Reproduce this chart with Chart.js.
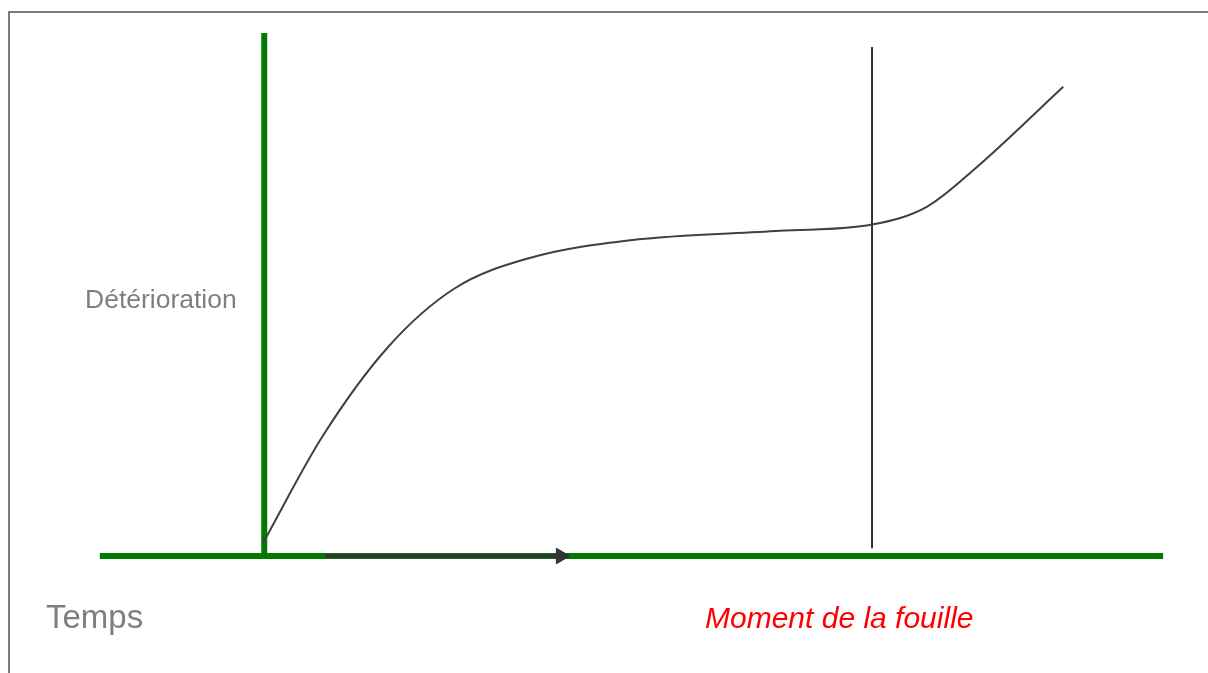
<!DOCTYPE html>
<html>
<head>
<meta charset="utf-8">
<script src="https://cdn.jsdelivr.net/npm/chart.js@4/dist/chart.umd.min.js"></script>
<style>
  body { margin: 0; background: #fff; }
  #wrap { position: relative; width: 1208px; height: 673px; }
  #frame { position: absolute; left: 8px; top: 11px; right: -10px; bottom: -10px;
           border-top: 2px solid #7a7a7a; border-left: 2px solid #7a7a7a; }
  canvas { position: absolute; left: 0; top: 0; }
</style>
</head>
<body>
<div id="wrap">
  <div id="frame"></div>
  <canvas id="myChart" width="1208" height="673"></canvas>
</div>
<script>
// time: 0 = start, 10 = moment of excavation
let curveTime = [0, 0.97, 2.05, 3.15, 4.38, 6.03, 8.49, 10, 10.9, 11.72, 13.14];
let curveDeterioration = [2.3, 22.6, 39.8, 51.1, 56.9, 60.3, 62.1, 63.3, 66.7, 74.3, 89.7];

let timeAxisRange = [-2.68, 14.78];
let deteriorationAxisRange = [0, 100];
let arrowRange = [1.02, 4.89];
let excavationTime = 10;
let excavationLine = [1.3, 97.3];

let labels = { y: 'Détérioration', x: 'Temps', event: 'Moment de la fouille' };

let green = '#007a00';
let dark = '#333333';

let pts = (xs, ys) => xs.map((x, i) => ({ x: x, y: ys[i] }));

let textPlugin = {
    id: 'texts',
    afterDraw(chart) {
        let ctx = chart.ctx;
        ctx.save();
        ctx.textBaseline = 'alphabetic';
        ctx.fillStyle = '#7f7f7f';
        ctx.font = '26.5px "Liberation Sans", Arial, sans-serif';
        ctx.fillText(labels.y, 85, 308);
        ctx.font = '33px "Liberation Sans", Arial, sans-serif';
        ctx.fillText(labels.x, 46, 628);
        ctx.fillStyle = '#ff0000';
        ctx.font = 'italic 30px "Liberation Sans", Arial, sans-serif';
        ctx.fillText(labels.event, 705, 628);
        ctx.restore();
    }
};

let myChart = document.getElementById('myChart').getContext('2d');

let newChart = new Chart(myChart, {
    type: 'line',
    data: {
        datasets: [
            {
                // arrow along the time axis
                data: pts(arrowRange, [-0.2, -0.2]),
                borderColor: dark,
                borderWidth: 4,
                pointRadius: [0, 9],
                pointStyle: 'triangle',
                rotation: 90,
                pointBackgroundColor: dark,
                pointBorderColor: dark,
                pointBorderWidth: 1,
                order: 0
            },
            {
                data: pts(curveTime, curveDeterioration),
                borderColor: '#404040',
                borderWidth: 2,
                pointRadius: 0,
                cubicInterpolationMode: 'monotone',
                order: 1
            },
            {
                data: pts([excavationTime, excavationTime], excavationLine),
                borderColor: dark,
                borderWidth: 2,
                pointRadius: 0,
                order: 2
            },
            {
                data: pts(timeAxisRange, [-0.2, -0.2]),
                borderColor: green,
                borderWidth: 6,
                borderCapStyle: 'butt',
                pointRadius: 0,
                order: 3
            },
            {
                data: pts([0.02, 0.02], deteriorationAxisRange),
                borderColor: green,
                borderWidth: 6,
                pointRadius: 0,
                order: 4
            }
        ]
    },
    options: {
        responsive: false,
        animation: false,
        layout: { padding: 0, autoPadding: false },
        scales: {
            x: { type: 'linear', display: false, min: -4.319, max: 15.517 },
            y: { type: 'linear', display: false, min: -22.61, max: 106.32 }
        },
        plugins: {
            legend: { display: false },
            tooltip: { enabled: false }
        },
        datasets: { line: { clip: false } }
    },
    plugins: [textPlugin]
});
</script>
</body>
</html>
